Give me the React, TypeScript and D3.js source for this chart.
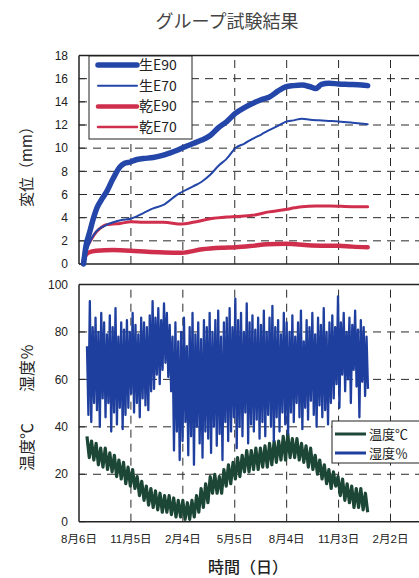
import React from 'react';
import * as d3 from 'd3';

// ---------- data ----------
const titleText = 'グループ試験結果';
const xTickDays = [0, 91, 182, 273, 364, 455, 546];
const xTickLabels = ['8月6日', '11月5日', '2月4日', '5月5日', '8月4日', '11月3日', '2月2日'];
const dispTicks = [0, 2, 4, 6, 8, 10, 12, 14, 16, 18];
const envTicks = [0, 20, 40, 60, 80, 100];

const seriesNames = ['生E90', '生E70', '乾E90', '乾E70'];

const nE90Days = [8, 12, 19, 25, 31, 40, 48, 60, 72, 80, 89, 100, 113, 130, 148, 160, 171, 185, 200, 215, 230, 245, 259, 274, 290, 304, 320, 333, 348, 362, 376, 391, 405, 415, 425, 438, 455, 479, 495, 506];
const nE90Vals = [0, 1.5, 2.8, 3.9, 4.8, 5.6, 6.2, 7.4, 8.4, 8.7, 8.8, 9.0, 9.1, 9.2, 9.4, 9.6, 9.8, 10.1, 10.4, 10.7, 11.1, 11.8, 12.3, 13.0, 13.5, 13.85, 14.2, 14.4, 14.9, 15.3, 15.4, 15.45, 15.3, 15.15, 15.5, 15.6, 15.55, 15.5, 15.45, 15.4];

const nE70Days = [8, 14, 20, 30, 45, 60, 75, 90, 113, 130, 148, 171, 200, 215, 230, 245, 259, 274, 290, 304, 320, 333, 348, 362, 376, 391, 405, 420, 438, 455, 479, 506];
const nE70Vals = [0, 1.2, 2.0, 2.8, 3.3, 3.6, 3.8, 3.9, 4.4, 4.8, 5.1, 5.95, 6.7, 7.1, 7.7, 8.5, 9.1, 10.0, 10.4, 10.8, 11.2, 11.55, 11.9, 12.27, 12.4, 12.55, 12.45, 12.4, 12.35, 12.3, 12.2, 12.07];

const dE90Days = [8, 12, 19, 25, 31, 40, 48, 60, 72, 91, 113, 148, 180, 200, 230, 259, 274, 304, 333, 362, 378, 391, 415, 440, 479, 506];
const dE90Vals = [0.2, 1.2, 1.9, 2.4, 2.8, 3.2, 3.4, 3.45, 3.5, 3.65, 3.6, 3.6, 3.45, 3.6, 3.9, 4.05, 4.1, 4.2, 4.5, 4.7, 4.85, 4.95, 5.0, 5.0, 4.95, 4.95];

const dE70Days = [8, 10, 17, 30, 60, 90, 120, 150, 180, 216, 250, 274, 300, 330, 362, 380, 408, 455, 479, 506];
const dE70Vals = [0.2, 0.65, 1.0, 1.15, 1.2, 1.15, 1.05, 1.0, 0.98, 1.27, 1.4, 1.45, 1.55, 1.7, 1.75, 1.7, 1.6, 1.57, 1.5, 1.45];

const envNames = ['温度℃', '湿度％'];

const humStartDay = 14;
const humStepDays = 5;
const humHigh = [74, 93, 82, 86, 80, 88,
  84, 79, 87, 82, 90, 78, 84, 81,
  85, 80, 88, 83, 79, 86, 84, 82, 87,
  93, 86, 90, 85, 92, 88, 83,
  78, 84, 76, 80, 86, 74, 82, 88, 79, 84, 77, 85,
  82, 88, 80, 85, 89, 78, 84, 86,
  90, 82, 94, 85, 88, 80, 92, 84, 87, 81, 86,
  83, 89, 80, 86, 91, 82, 85, 79, 88, 84,
  80, 87, 78, 84, 89, 76, 85, 82, 88, 79, 86, 83, 90, 80, 84,
  87, 82, 95, 84, 88, 80, 86, 83, 89, 81, 85, 82, 78];
const humLow = [45, 42, 50, 47, 40, 52,
  44, 50, 38, 46, 41, 48, 39, 45,
  48, 54, 46, 50, 44, 52, 49, 47, 55,
  56, 62, 58, 64, 67, 61, 55,
  30, 38, 26, 34, 42, 28, 36, 24, 40, 33, 27, 38,
  35, 29, 40, 32, 37, 26, 42, 34,
  38, 44, 31, 40, 36, 46, 33, 41, 38, 43, 35,
  42, 36, 45, 40, 34, 44, 38, 46, 41, 37,
  46, 42, 50, 44, 39, 48, 43, 51, 45, 40, 49, 44, 47, 41, 50,
  52, 58, 48, 62, 55, 60, 50, 64, 57, 44, 59, 53, 56];

const tempStartDay = 14;
const tempStepDays = 8;
const tempHigh = [36, 34, 33, 31, 31, 29, 28, 26, 25, 23, 22, 19, 17, 15, 14, 13, 12, 11, 11, 10, 9, 9, 8, 9, 11, 14, 16, 19, 20, 19, 22, 24, 25, 27, 28, 30, 30, 31, 31, 32, 33, 34, 34, 36, 37, 35, 35, 33, 32, 31, 28, 26, 24, 22, 21, 19, 18, 16, 15, 14, 14, 12];
const tempLow = [27, 26, 24, 23, 22, 21, 19, 18, 16, 15, 14, 11, 9, 7, 6, 5, 4, 4, 3, 2, 2, 1, 1, 2, 4, 6, 8, 12, 12, 12, 15, 16, 18, 19, 21, 21, 22, 22, 23, 23, 24, 25, 26, 26, 27, 27, 26, 25, 23, 22, 20, 18, 16, 14, 15, 11, 9, 8, 6, 6, 5, 4];

// ---------- layout ----------
const W = 419;
const H = 578;
const plotLeft = 79;
const plotRightVisible = 430;
const sans = "'Liberation Sans', 'Noto Sans CJK JP', Arial, sans-serif";
const cjk = "'Noto Sans CJK JP', 'Noto Sans', sans-serif";
const blue = '#2346a8';
const red = '#cf2f4c';
const humColor = '#1f3f9e';
const tempColor = '#1c4636';
const gridColor = '#2a2a2a';

const x = d3.scaleLinear().domain([0, 546]).range([plotLeft, 390.5]);
const yTop = d3.scaleLinear().domain([0, 18]).range([264, 55.5]);
const yBot = d3.scaleLinear().domain([0, 100]).range([521.7, 284.5]);

type P = [number, number];
const zip = (ds: number[], vs: number[]): P[] => ds.map((d, i) => [d, vs[i]]);
const zigzag = (start: number, step: number, hi: number[], lo: number[]): P[] =>
  hi.flatMap((h, i) => [[start + i * step, h] as P, [start + i * step + step / 2, lo[i]] as P]);

const topLine = d3.line<P>().x((d) => x(d[0])).y((d) => yTop(d[1])).curve(d3.curveMonotoneX);
const botLine = d3.line<P>().x((d) => x(d[0])).y((d) => yBot(d[1]));

const topSeries = [
  { name: seriesNames[3], pts: zip(dE70Days, dE70Vals), color: red, w: 4.5 },
  { name: seriesNames[2], pts: zip(dE90Days, dE90Vals), color: red, w: 3 },
  { name: seriesNames[1], pts: zip(nE70Days, nE70Vals), color: blue, w: 2 },
  { name: seriesNames[0], pts: zip(nE90Days, nE90Vals), color: blue, w: 5.5 },
];
const legendTop = [
  { name: seriesNames[0], color: blue, w: 5.5 },
  { name: seriesNames[1], color: blue, w: 2 },
  { name: seriesNames[2], color: red, w: 4.5 },
  { name: seriesNames[3], color: red, w: 2.5 },
];

function Panel({ y, ticks, dashedTicks }: { y: d3.ScaleLinear<number, number>; ticks: number[]; dashedTicks: number[] }) {
  const [y0, y1] = y.range();
  return (
    <g>
      {dashedTicks.map((t) => (
        <line key={'h' + t} x1={plotLeft} x2={plotRightVisible} y1={y(t)} y2={y(t)} stroke={gridColor} strokeWidth={1} strokeDasharray="8,6" />
      ))}
      {xTickDays.slice(1).map((d) => (
        <line key={'v' + d} x1={x(d)} x2={x(d)} y1={y0} y2={y1} stroke={gridColor} strokeWidth={1} strokeDasharray="8,6" />
      ))}
      {ticks.map((t) => (
        <g key={'t' + t}>
          <line x1={plotLeft} x2={plotLeft + 6} y1={y(t)} y2={y(t)} stroke={gridColor} strokeWidth={1} />
          <text x={68} y={y(t)} dy="0.35em" textAnchor="end" fontFamily={sans} fontSize={12} fill="#222">{t}</text>
        </g>
      ))}
      <line x1={plotLeft} x2={plotRightVisible} y1={y1} y2={y1} stroke="#222" strokeWidth={1.3} />
      <line x1={plotLeft} x2={plotRightVisible} y1={y0} y2={y0} stroke="#222" strokeWidth={1.5} />
      <line x1={plotLeft} x2={plotLeft} y1={y0} y2={y1} stroke="#222" strokeWidth={1.5} />
    </g>
  );
}

export default function App() {
  const humPts = zigzag(humStartDay, humStepDays, humHigh, humLow);
  const tempPts = zigzag(tempStartDay, tempStepDays, tempHigh, tempLow);
  return (
    <div style={{ position: 'absolute', left: 0, top: 0 }}>
      <svg width={W} height={H} viewBox={`0 0 ${W} ${H}`} style={{ display: 'block', background: '#fff' }}>
        <text x={227} y={22} dy="0.35em" textAnchor="middle" fontFamily={cjk} fontSize={18} fill="#444">{titleText}</text>

        {/* top panel */}
        <Panel y={yTop} ticks={dispTicks} dashedTicks={dispTicks.filter((t) => t > 0 && t < 18)} />
        {topSeries.map((s) => (
          <path key={s.name} d={topLine(s.pts) || ''} fill="none" stroke={s.color} strokeWidth={s.w} strokeLinejoin="round" strokeLinecap="round" />
        ))}
        <rect x={89} y={56} width={103} height={83} fill="#fff" stroke="#222" strokeWidth={1} />
        {legendTop.map((l, i) => {
          const ly = 65 + i * 20.7;
          return (
            <g key={l.name}>
              <line x1={98} x2={137} y1={ly} y2={ly} stroke={l.color} strokeWidth={l.w} strokeLinecap="round" />
              <text x={139} y={ly} dy="0.36em" fontFamily={cjk} fontSize={14} fill="#222">{l.name}</text>
            </g>
          );
        })}
        <text transform={`translate(27,163) rotate(-90)`} textAnchor="middle" dy="0.35em" fontFamily={cjk} fontSize={15} fill="#222">変位（mm）</text>

        {/* bottom panel */}
        <Panel y={yBot} ticks={envTicks} dashedTicks={envTicks.filter((t) => t > 0 && t < 100)} />
        <path d={botLine(tempPts) || ''} fill="none" stroke={tempColor} strokeWidth={3.2} strokeLinejoin="round" />
        <path d={botLine(humPts) || ''} fill="none" stroke={humColor} strokeWidth={2.3} strokeLinejoin="round" />
        <rect x={332} y={421} width={100} height={42} fill="#fff" stroke="#222" strokeWidth={1} />
        {envNames.map((n, i) => {
          const ly = 434 + i * 19;
          return (
            <g key={n}>
              <line x1={335} x2={366} y1={ly} y2={ly} stroke={i === 0 ? tempColor : humColor} strokeWidth={3} />
              <text x={369} y={ly} dy="0.36em" fontFamily={cjk} fontSize={13} fill="#222">{n}</text>
            </g>
          );
        })}
        <text transform={`translate(27,368) rotate(-90)`} textAnchor="middle" dy="0.35em" fontFamily={cjk} fontSize={16} fill="#222">湿度％</text>
        <text transform={`translate(27,447) rotate(-90)`} textAnchor="middle" dy="0.35em" fontFamily={cjk} fontSize={16} fill="#222">温度℃</text>

        {xTickDays.map((d, i) => (
          <text key={d} x={x(d)} y={539} dy="0.35em" textAnchor="middle" fontFamily={sans} fontSize={11.5} fill="#222">{xTickLabels[i]}</text>
        ))}
        <text x={248} y={567} dy="0.35em" textAnchor="middle" fontFamily={cjk} fontSize={16} fontWeight={500} fill="#222">時間（日）</text>
      </svg>
    </div>
  );
}
